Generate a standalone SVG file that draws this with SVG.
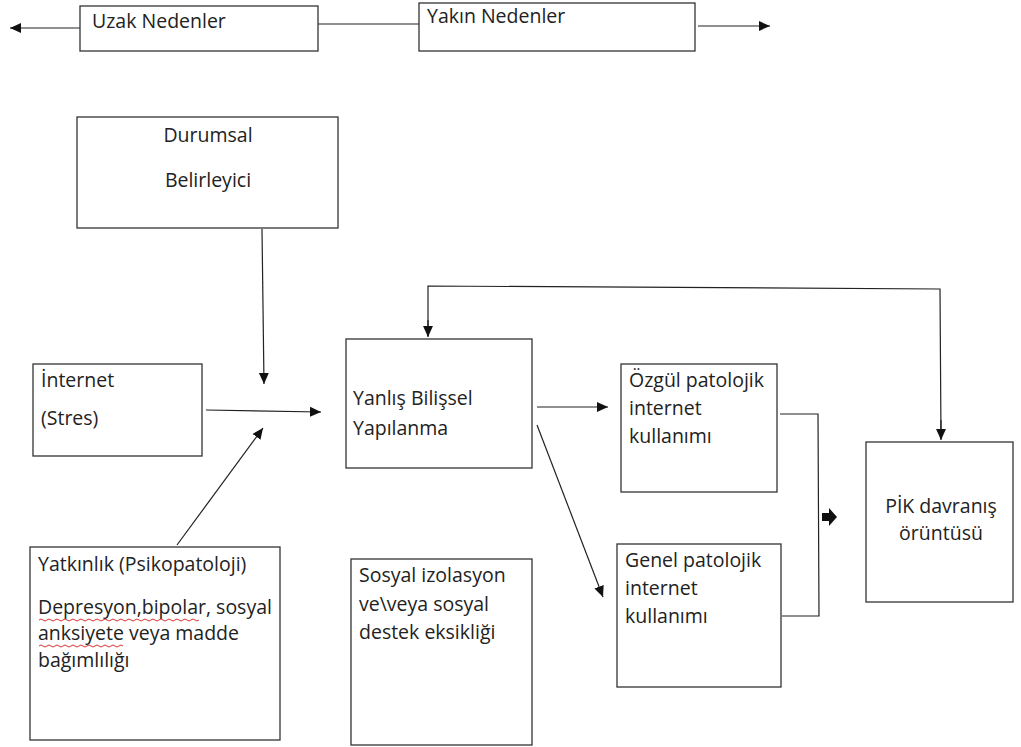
<svg xmlns="http://www.w3.org/2000/svg" width="1021" height="747" viewBox="0 0 1021 747">
<defs>
<marker id="ah" viewBox="0 0 10 10" refX="10" refY="5" markerWidth="11" markerHeight="11" markerUnits="userSpaceOnUse" orient="auto">
<path d="M0,0.5 L10,5 L0,9.5 z" fill="#111"/>
</marker>
<style>
.box{fill:#fff;stroke:#333;stroke-width:1.3}
.t{font-family:"Open Sans","Noto Sans",sans-serif;font-size:19.5px;fill:#222}
.c{fill:none;stroke:#222;stroke-width:1.2}
.a{marker-end:url(#ah)}
.sq{fill:none;stroke:#d33;stroke-width:1}
</style>
</defs>
<rect width="1021" height="747" fill="#fff"/>
<g id="connectors">
<path class="c a" d="M81,28 L10,28"/>
<path class="c" d="M318,24 L419,24"/>
<path class="c a" d="M698,26 L770,26"/>
<path class="c a" d="M262,229 L264,384"/>
<path class="c a" d="M206,410 L321,412"/>
<path class="c a" d="M177,545 L263,428"/>
<path class="c" d="M428,336 L428,286 L940,289 L941,439"/>
<path class="c a" d="M428,320 L428,337"/>
<path class="c a" d="M941,420 L941,440"/>
<path class="c a" d="M537,407 L608,407"/>
<path class="c a" d="M537,425 L603,597"/>
<path class="c" d="M780,414 L818,414 L819,616 L782,616"/>
<path d="M822,513 L829,513 L829,508 L837,517 L829,526 L829,521 L822,521 z" fill="#111"/>
</g>
<g id="uzak">
<rect class="box" x="80" y="6" width="238" height="45"/>
<text class="t" x="92" y="28">Uzak Nedenler</text>
</g>
<g id="yakin">
<rect class="box" x="419" y="3" width="276" height="48"/>
<text class="t" x="427" y="23">Yakın Nedenler</text>
</g>
<g id="durumsal">
<rect class="box" x="77" y="117" width="261" height="111"/>
<text class="t" x="208" y="142" text-anchor="middle">Durumsal</text>
<text class="t" x="208" y="187" text-anchor="middle">Belirleyici</text>
</g>
<g id="internet">
<rect class="box" x="33" y="364" width="169" height="92"/>
<text class="t" x="41" y="387">İnternet</text>
<text class="t" x="41" y="425">(Stres)</text>
</g>
<g id="yanlis">
<rect class="box" x="346" y="339" width="186" height="129"/>
<text class="t" x="353" y="405">Yanlış Bilişsel</text>
<text class="t" x="353" y="435">Yapılanma</text>
</g>
<g id="ozgul">
<rect class="box" x="621" y="364" width="156" height="128"/>
<text class="t" x="629" y="387">Özgül patolojik</text>
<text class="t" x="629" y="415">internet</text>
<text class="t" x="629" y="443">kullanımı</text>
</g>
<g id="genel">
<rect class="box" x="617" y="544" width="164" height="143"/>
<text class="t" x="625" y="567">Genel patolojik</text>
<text class="t" x="625" y="595">internet</text>
<text class="t" x="625" y="623">kullanımı</text>
</g>
<g id="pik">
<rect class="box" x="866" y="442" width="147" height="160"/>
<text class="t" x="941" y="513" text-anchor="middle">PİK davranış</text>
<text class="t" x="941" y="540" text-anchor="middle">örüntüsü</text>
</g>
<g id="yatkinlik">
<rect class="box" x="30" y="547" width="250" height="193"/>
<text class="t" x="38" y="571">Yatkınlık (Psikopatoloji)</text>
<text class="t" x="38" y="614">Depresyon,bipolar, sosyal</text>
<text class="t" x="38" y="640">anksiyete veya madde</text>
<text class="t" x="38" y="667">bağımlılığı</text>
<path class="sq" d="M39,620 q2,-2 4,0 t4,0 t4,0 t4,0 t4,0 t4,0 t4,0 t4,0 t4,0 t4,0 t4,0 t4,0 t4,0 t4,0 t4,0 t4,0 t4,0 t4,0 t4,0 t4,0 t4,0 t4,0 t4,0 t4,0 t4,0 t4,0 t4,0 t4,0 t4,0 t4,0 t4,0 t4,0 t4,0 t4,0 t4,0 t4,0 t4,0 t4,0 t4,0 t4,0"/>
<path class="sq" d="M39,646 q2,-2 4,0 t4,0 t4,0 t4,0 t4,0 t4,0 t4,0 t4,0 t4,0 t4,0 t4,0 t4,0 t4,0 t4,0 t4,0 t4,0 t4,0 t4,0 t4,0 t4,0 t4,0"/>
</g>
<g id="sosyal">
<rect class="box" x="351" y="559" width="181" height="186"/>
<text class="t" x="359" y="582">Sosyal izolasyon</text>
<text class="t" x="359" y="611">ve\veya sosyal</text>
<text class="t" x="359" y="639">destek eksikliği</text>
</g>
</svg>
